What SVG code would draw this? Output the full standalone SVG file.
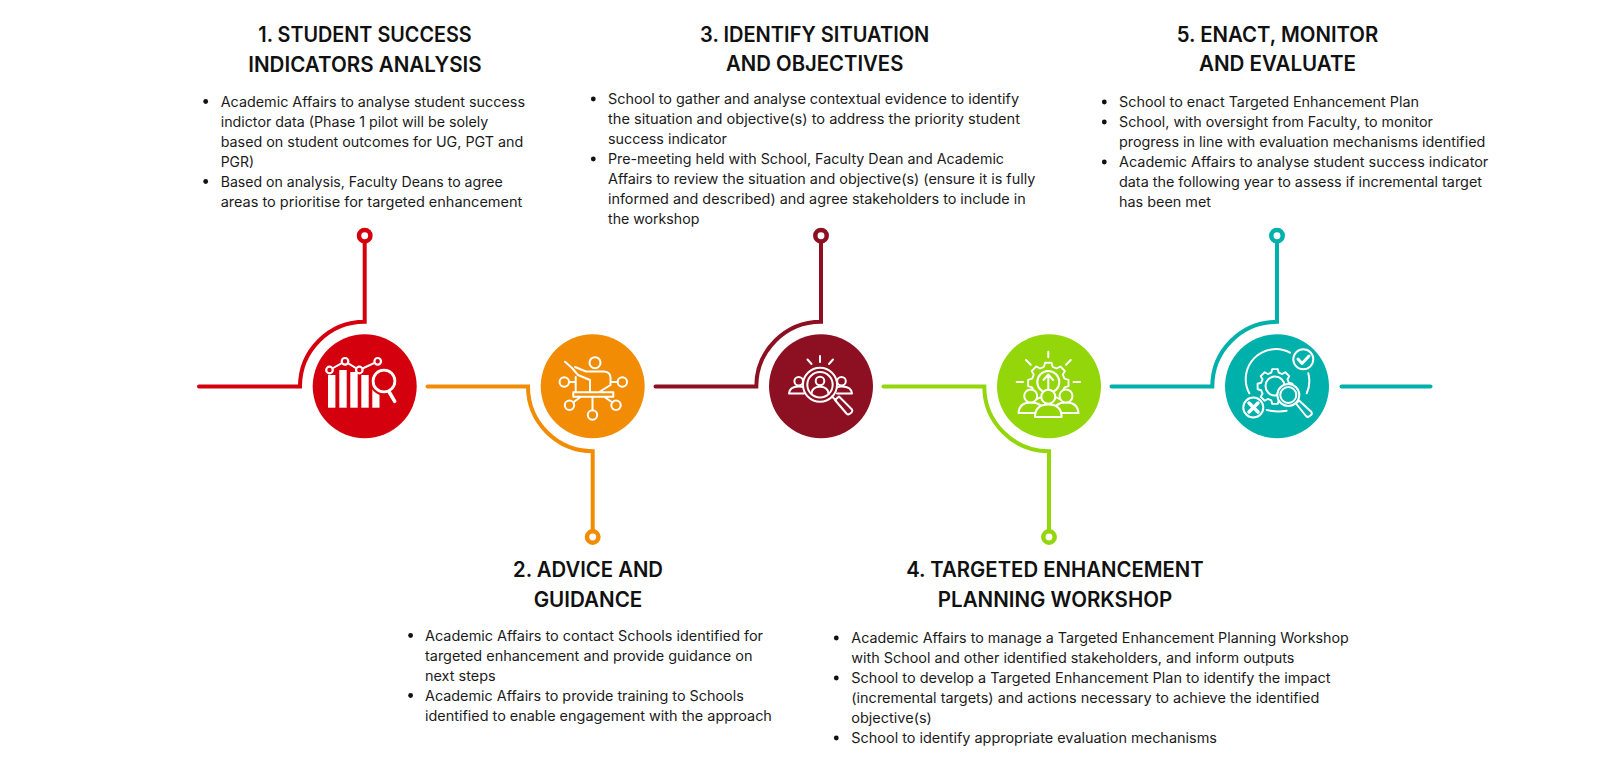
<svg xmlns="http://www.w3.org/2000/svg" width="1600" height="767" viewBox="0 0 1600 767">
<style>
text{font-family:"Inter","Liberation Sans",sans-serif;fill:#111}
.h{font-size:21px;font-weight:600;text-anchor:middle}
.b{font-size:13.8px;font-weight:400;fill:#1a1a1a}
.dot{fill:#111}
.c{fill:none;stroke-width:4;stroke-linecap:round;stroke-linejoin:miter}
.e{fill:#fff;stroke-width:4.5}
.i{fill:none;stroke:#fff;stroke-width:2;stroke-linecap:round;stroke-linejoin:round}
.w{fill:#fff}
</style>
<defs>
<path id="gear" d="M-4.66-17.39L-3.44-21.73H3.44L4.66-17.39L9-15.59L12.93-17.8L17.8-12.93L15.59-9L17.39-4.66L21.73-3.44V3.44L17.39 4.66L15.59 9L17.8 12.93L12.93 17.8L9 15.59L4.66 17.39L3.44 21.73H-3.44L-4.66 17.39L-9 15.59L-12.93 17.8L-17.8 12.93L-15.59 9L-17.39 4.66L-21.73 3.44V-3.44L-17.39-4.66L-15.59-9L-17.8-12.93L-12.93-17.8L-9-15.59Z"/>
</defs>
<rect width="1600" height="767" fill="#fff"/>
<g id="connectors">
<path class="c" stroke="#D5000D" d="M199 386.500H300A64.700 64.700 0 0 1 364.700 321.800V241"/>
<circle class="e" stroke="#D5000D" cx="364.700" cy="235.700" r="5.700"/>
<path class="c" stroke="#F28C05" d="M427.500 386.500H528A64.700 64.700 0 0 0 592.700 451.200V531"/>
<circle class="e" stroke="#F28C05" cx="592.700" cy="537" r="5.700"/>
<path class="c" stroke="#8C1022" d="M655.500 386.500H756.300A64.700 64.700 0 0 1 821 321.800V241"/>
<circle class="e" stroke="#8C1022" cx="821" cy="235.700" r="5.700"/>
<path class="c" stroke="#93D60A" d="M883.500 386.500H984.300A64.700 64.700 0 0 0 1049 451.200V531"/>
<circle class="e" stroke="#93D60A" cx="1049" cy="537" r="5.700"/>
<path class="c" stroke="#00B0AB" d="M1111.500 386.500H1212.300A64.700 64.700 0 0 1 1277 321.800V241"/>
<circle class="e" stroke="#00B0AB" cx="1277" cy="235.700" r="5.700"/>
<path class="c" stroke="#00B0AB" d="M1341.500 386.500H1430.500"/>
</g>
<g id="node-1">
<circle cx="364.700" cy="386.300" r="52" fill="#D5000D"/>
<g class="w"><rect x="328" y="375" width="7.400" height="32.700"/><rect x="339.300" y="370" width="7.400" height="37.700"/><rect x="350.300" y="372" width="7.400" height="35.700"/><rect x="361.300" y="375" width="7.400" height="32.700"/><rect x="372.300" y="385" width="7.200" height="22.700"/></g>
<path d="M329.500 370L345 361.300L359.300 370L377.700 361.300" fill="none" stroke="#D5000D" stroke-width="5.500"/>
<path d="M329.500 370L345 361.300L359.300 370L377.700 361.300" fill="none" stroke="#fff" stroke-width="2"/>
<g fill="#D5000D" stroke="#fff" stroke-width="2.200"><circle cx="329.500" cy="370" r="3.300"/><circle cx="345" cy="361.300" r="3.300"/><circle cx="359.300" cy="370" r="3.300"/><circle cx="377.700" cy="361.300" r="3.300"/></g>
<circle cx="384" cy="381" r="11" fill="#D5000D" stroke="#fff" stroke-width="3"/>
<circle cx="384" cy="381" r="13.500" fill="none" stroke="#D5000D" stroke-width="2"/>
<path d="M389.500 392.500L394.700 401.300" stroke="#fff" stroke-width="3.500" stroke-linecap="round"/>
<text class="h" x="365" y="42.300" textLength="213.400" lengthAdjust="spacingAndGlyphs">1. STUDENT SUCCESS</text>
<text class="h" x="365" y="71.700" textLength="233.400" lengthAdjust="spacingAndGlyphs">INDICATORS ANALYSIS</text>
<circle class="dot" cx="205.700" cy="101.500" r="2.400"/><circle class="dot" cx="205.700" cy="181.500" r="2.400"/>
<text class="b" x="220.700" y="106.700" textLength="304.300" lengthAdjust="spacingAndGlyphs">Academic Affairs to analyse student success</text>
<text class="b" x="220.700" y="126.700" textLength="267.600" lengthAdjust="spacingAndGlyphs">indictor data (Phase 1 pilot will be solely</text>
<text class="b" x="220.700" y="146.700" textLength="302.600" lengthAdjust="spacingAndGlyphs">based on student outcomes for UG, PGT and</text>
<text class="b" x="220.700" y="166.700" textLength="33.300" lengthAdjust="spacingAndGlyphs">PGR)</text>
<text class="b" x="220.700" y="186.700" textLength="282" lengthAdjust="spacingAndGlyphs">Based on analysis, Faculty Deans to agree</text>
<text class="b" x="220.700" y="206.700" textLength="301.600" lengthAdjust="spacingAndGlyphs">areas to prioritise for targeted enhancement</text>
</g>
<g id="node-2">
<circle cx="592.700" cy="386.300" r="52" fill="#F28C05"/>
<g class="i">
<circle cx="595" cy="362.700" r="5.500"/>
<circle cx="564.300" cy="382" r="4.700"/><circle cx="622.300" cy="382" r="4.700"/><circle cx="569.500" cy="405.300" r="4.700"/><circle cx="592.500" cy="415" r="4.700"/><circle cx="616" cy="405.300" r="4.700"/>
<path d="M565 361.700L572 368M572 368L578 375L590 380V391.500M575 367L586 371.500H604Q610.500 372 610.500 378V385L600 391.500M575.700 377V392M569 382H575.700M611 382H617.600M573.300 392.300H613.300V396.700H573.300ZM592.500 396.700V410.300M581 396.700L573 402.500M604 396.700L612.500 402.500"/>
</g>
<text class="h" x="588" y="577.300" textLength="150" lengthAdjust="spacingAndGlyphs">2. ADVICE AND</text>
<text class="h" x="588" y="606.700" textLength="108.700" lengthAdjust="spacingAndGlyphs">GUIDANCE</text>
<circle class="dot" cx="410.600" cy="635.500" r="2.400"/><circle class="dot" cx="410.600" cy="695.500" r="2.400"/>
<text class="b" x="425" y="640.500" textLength="338" lengthAdjust="spacingAndGlyphs">Academic Affairs to contact Schools identified for</text>
<text class="b" x="425" y="660.500" textLength="327.500" lengthAdjust="spacingAndGlyphs">targeted enhancement and provide guidance on</text>
<text class="b" x="425" y="680.500" textLength="70.600" lengthAdjust="spacingAndGlyphs">next steps</text>
<text class="b" x="425" y="700.500" textLength="318.800" lengthAdjust="spacingAndGlyphs">Academic Affairs to provide training to Schools</text>
<text class="b" x="425" y="720.500" textLength="346.900" lengthAdjust="spacingAndGlyphs">identified to enable engagement with the approach</text>
</g>
<g id="node-3">
<circle cx="821" cy="386.300" r="52" fill="#8C1022"/>
<g class="i">
<path d="M807.500 359.500L811.500 364M820 356V362M833 359.500L829 364"/>
<path d="M789 393.500C789.500 388 793 386.500 798.500 386.500C801 386.500 803 387 804.500 388M789 393.500H804M852 393.500C851.500 388 848 386.500 842 386.500C839 386.500 837.500 387 836 388M852 393.500H837"/>
<circle cx="798.700" cy="381.300" r="4.300"/><circle cx="841.500" cy="381.300" r="4.300"/>
<circle cx="820" cy="384.700" r="17" fill="#8C1022"/><circle cx="820" cy="384.700" r="12.700"/>
<circle cx="820" cy="381" r="4.300"/>
<path d="M811.500 393.500C812 388.500 815 386.800 820 386.800C825 386.800 828 388.500 828.500 393.500"/>
<path d="M832 396.500L836 400.500M835 400L839 396.500L852 409.500Q853 411 851.500 412.500L849.500 414Q848 415 846.500 413.500Z"/>
</g>
<text class="h" x="814.700" y="42.300" textLength="229.300" lengthAdjust="spacingAndGlyphs">3. IDENTIFY SITUATION</text>
<text class="h" x="814.700" y="71.300" textLength="177.300" lengthAdjust="spacingAndGlyphs">AND OBJECTIVES</text>
<circle class="dot" cx="593.300" cy="99" r="2.400"/><circle class="dot" cx="593.300" cy="159" r="2.400"/>
<text class="b" x="608" y="104" textLength="411" lengthAdjust="spacingAndGlyphs">School to gather and analyse contextual evidence to identify</text>
<text class="b" x="608" y="124" textLength="412" lengthAdjust="spacingAndGlyphs">the situation and objective(s) to address the priority student</text>
<text class="b" x="608" y="144" textLength="119" lengthAdjust="spacingAndGlyphs">success indicator</text>
<text class="b" x="608" y="164" textLength="396" lengthAdjust="spacingAndGlyphs">Pre-meeting held with School, Faculty Dean and Academic</text>
<text class="b" x="608" y="184" textLength="427.300" lengthAdjust="spacingAndGlyphs">Affairs to review the situation and objective(s) (ensure it is fully</text>
<text class="b" x="608" y="204" textLength="417.700" lengthAdjust="spacingAndGlyphs">informed and described) and agree stakeholders to include in</text>
<text class="b" x="608" y="224" textLength="91.300" lengthAdjust="spacingAndGlyphs">the workshop</text>
</g>
<g id="node-4">
<circle cx="1049" cy="386.300" r="52" fill="#93D60A"/>
<g class="i">
<path d="M1048.300 351.700V357.300M1016.700 382H1023M1073.500 382H1080M1026 360L1030.700 364.700M1070.700 360L1066 364.700"/>
<use href="#gear" transform="translate(1048.300 383) scale(.93)" stroke-width="2"/>
<circle cx="1048.300" cy="382" r="11"/>
<path d="M1048.300 391V375M1043.500 380L1048.300 374.500L1053.100 380"/>
<path d="M1018.500 413C1019 405 1024 402.500 1031 402.500C1038 402.500 1043 405 1044 413ZM1053 413C1054 405 1059 402.500 1066 402.500C1073 402.500 1078 405 1078.500 413Z" fill="#93D60A"/>
<circle cx="1030.700" cy="396" r="6.500" fill="#93D60A"/><circle cx="1066" cy="396" r="6.500" fill="#93D60A"/>
<path d="M1035 417C1035 408 1040 404.500 1048.300 404.500C1056.600 404.500 1061.600 408 1061.600 417Z" fill="#93D60A"/>
<circle cx="1048.300" cy="396.700" r="7" fill="#93D60A"/>
</g>
<text class="h" x="1055" y="577.300" textLength="297.500" lengthAdjust="spacingAndGlyphs">4. TARGETED ENHANCEMENT</text>
<text class="h" x="1055" y="606.700" textLength="234.400" lengthAdjust="spacingAndGlyphs">PLANNING WORKSHOP</text>
<circle class="dot" cx="836.300" cy="638" r="2.400"/><circle class="dot" cx="836.300" cy="678" r="2.400"/><circle class="dot" cx="836.300" cy="738" r="2.400"/>
<text class="b" x="851.300" y="643" textLength="497.500" lengthAdjust="spacingAndGlyphs">Academic Affairs to manage a Targeted Enhancement Planning Workshop</text>
<text class="b" x="851.300" y="663" textLength="443.100" lengthAdjust="spacingAndGlyphs">with School and other identified stakeholders, and inform outputs</text>
<text class="b" x="851.300" y="683" textLength="479.300" lengthAdjust="spacingAndGlyphs">School to develop a Targeted Enhancement Plan to identify the impact</text>
<text class="b" x="851.300" y="703" textLength="468.100" lengthAdjust="spacingAndGlyphs">(incremental targets) and actions necessary to achieve the identified</text>
<text class="b" x="851.300" y="723" textLength="80.600" lengthAdjust="spacingAndGlyphs">objective(s)</text>
<text class="b" x="851.300" y="743" textLength="365.600" lengthAdjust="spacingAndGlyphs">School to identify appropriate evaluation mechanisms</text>
</g>
<g id="node-5">
<circle cx="1277" cy="386.300" r="52" fill="#00B0AB"/>
<g class="i">
<path d="M1249.300 393.300A30 30 0 0 1 1290 352.700M1308.300 373.300A30 30 0 0 1 1306.700 393.300M1266.700 410Q1277 412.500 1286.700 410.700"/>
<use href="#gear" transform="translate(1275 386.500) scale(.8)" stroke-width="2.400"/>
<circle cx="1275" cy="386" r="9.500"/>
<path d="M1296 403.500L1299 400.500L1311.500 412Q1312.500 413.500 1311 415L1309 416.500Q1307.500 417.500 1306 416Z" fill="#00B0AB"/>
<circle cx="1288.300" cy="395" r="11" fill="#00B0AB"/><circle cx="1288.300" cy="395" r="8"/>
<circle cx="1303.300" cy="359.300" r="10" fill="#00B0AB"/>
<path d="M1298 359L1302 363.500L1309 356" stroke-width="3"/>
<circle cx="1253.300" cy="407.500" r="10" fill="#00B0AB"/>
<path d="M1249 403L1258 412M1258 403L1249 412" stroke-width="3.500"/>
</g>
<text class="h" x="1277.500" y="41.700" textLength="201.600" lengthAdjust="spacingAndGlyphs">5. ENACT, MONITOR</text>
<text class="h" x="1277.500" y="70.700" textLength="157" lengthAdjust="spacingAndGlyphs">AND EVALUATE</text>
<circle class="dot" cx="1104.300" cy="102" r="2.400"/><circle class="dot" cx="1104.300" cy="122" r="2.400"/><circle class="dot" cx="1104.300" cy="162" r="2.400"/>
<text class="b" x="1119" y="107" textLength="300" lengthAdjust="spacingAndGlyphs">School to enact Targeted Enhancement Plan</text>
<text class="b" x="1119" y="127" textLength="314" lengthAdjust="spacingAndGlyphs">School, with oversight from Faculty, to monitor</text>
<text class="b" x="1119" y="147" textLength="366.300" lengthAdjust="spacingAndGlyphs">progress in line with evaluation mechanisms identified</text>
<text class="b" x="1119" y="167" textLength="369.300" lengthAdjust="spacingAndGlyphs">Academic Affairs to analyse student success indicator</text>
<text class="b" x="1119" y="187" textLength="363" lengthAdjust="spacingAndGlyphs">data the following year to assess if incremental target</text>
<text class="b" x="1119" y="207" textLength="92" lengthAdjust="spacingAndGlyphs">has been met</text>
</g>
</svg>
